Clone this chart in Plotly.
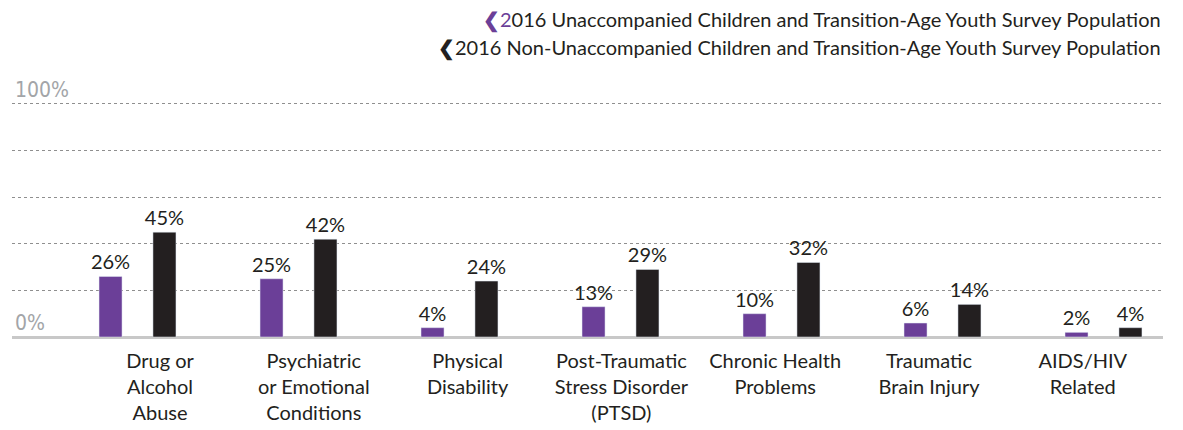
import plotly.graph_objects as go

# ── Data ──────────────────────────────────────────────────────────────────────
categories = [
    "Drug or<br>Alcohol<br>Abuse",
    "Psychiatric<br>or Emotional<br>Conditions",
    "Physical<br>Disability",
    "Post-Traumatic<br>Stress Disorder<br>(PTSD)",
    "Chronic Health<br>Problems",
    "Traumatic<br>Brain Injury",
    "AIDS/HIV<br>Related",
]
unaccompanied = [26, 25, 4, 13, 10, 6, 2]
non_unaccompanied = [45, 42, 24, 29, 32, 14, 4]

series_names = [
    "2016 Unaccompanied Children and Transition-Age Youth Survey Population",
    "2016 Non-Unaccompanied Children and Transition-Age Youth Survey Population",
]

PURPLE = "#6B3F98"
BLACK = "#231F20"
GRID = "#8f8f8f"
MUTED = "#a3a5a8"
FONT = "Lato"
NARROW = "Liberation Sans Narrow, DejaVu Sans Condensed, Roboto, sans-serif"

x_idx = list(range(len(categories)))

fig = go.Figure()

fig.add_trace(go.Bar(
    x=x_idx, y=unaccompanied, name=series_names[0],
    marker_color=PURPLE, width=0.143, offset=-0.239,
    text=[f"{v}%" for v in unaccompanied], textposition="outside",
    textfont=dict(family=FONT, size=20, color=BLACK),
    constraintext="none", cliponaxis=False, showlegend=False,
))
fig.add_trace(go.Bar(
    x=x_idx, y=non_unaccompanied, name=series_names[1],
    marker_color=BLACK, width=0.143, offset=0.096,
    text=[f"{v}%" for v in non_unaccompanied], textposition="outside",
    textfont=dict(family=FONT, size=20, color=BLACK),
    constraintext="none", cliponaxis=False, showlegend=False,
))
# invisible carrier so the label axis is drawn
fig.add_trace(go.Scatter(
    x=x_idx, y=[None] * len(x_idx), xaxis="x2", mode="markers",
    showlegend=False, hoverinfo="skip",
))

# page body adds an 8px offset, margins are compensated for it
fig.update_layout(
    width=1183, height=430,
    paper_bgcolor="white", plot_bgcolor="white",
    margin=dict(l=4, r=28, t=68, b=101, autoexpand=False),
    barmode="overlay",
    font=dict(family=FONT, color=BLACK, size=19),
    xaxis=dict(
        range=[-0.7795, 6.3696], showticklabels=False, showgrid=False,
        zeroline=False, showline=False, ticks="", automargin=False,
    ),
    xaxis2=dict(
        overlaying="x", side="bottom", range=[-0.9623, 6.5215],
        tickvals=x_idx, ticktext=categories, showgrid=False,
        zeroline=False, showline=False, ticks="", automargin=False,
        ticklabelstandoff=10,
        tickfont=dict(family=FONT, size=20, color=BLACK),
    ),
    yaxis=dict(
        range=[0, 112], tickvals=[0, 20, 40, 60, 80, 100],
        ticktext=["0%", "", "", "", "", "100%"],
        ticklabelposition="inside top", automargin=False,
        tickfont=dict(family=NARROW, size=21, color=MUTED),
        showgrid=True, gridcolor=GRID, griddash="dot", gridwidth=1,
        zeroline=True, zerolinecolor="#c8c8c8", zerolinewidth=3,
        showline=False, ticks="",
    ),
    annotations=[
        dict(
            text=f"<span style='color:{PURPLE}'><b>❮</b>2</span>016 Unaccompanied Children and Transition-Age Youth Survey Population",
            xref="paper", yref="paper", x=1, y=1.216,
            xanchor="right", yanchor="middle", showarrow=False,
            font=dict(family=FONT, size=20, color=BLACK),
        ),
        dict(
            text="<b>❮</b>2016 Non-Unaccompanied Children and Transition-Age Youth Survey Population",
            xref="paper", yref="paper", x=1, y=1.107,
            xanchor="right", yanchor="middle", showarrow=False,
            font=dict(family=FONT, size=20, color=BLACK),
        ),
    ],
)

fig.write_html("out.html")
